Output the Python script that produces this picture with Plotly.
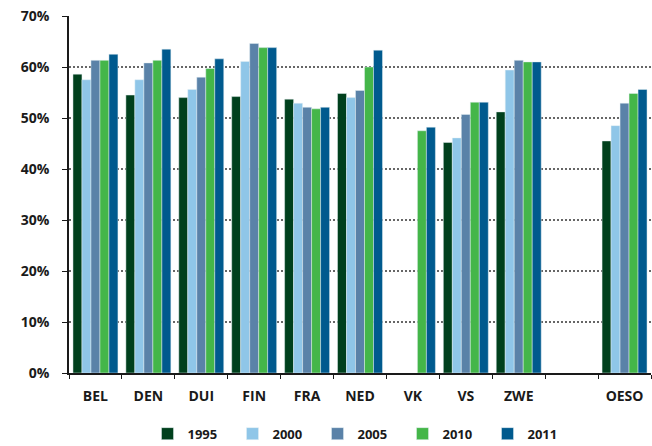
import plotly.graph_objects as go

categories = ["BEL", "DEN", "DUI", "FIN", "FRA", "NED", "VK", "VS", "ZWE", " ", "OESO"]
years = ["1995", "2000", "2005", "2010", "2011"]
v1995 = [58.6, 54.5, 54.0, 54.2, 53.7, 54.8, None, 45.2, 51.2, None, 45.5]
v2000 = [57.5, 57.5, 55.6, 61.1, 52.9, 54.0, None, 46.1, 59.4, None, 48.5]
v2005 = [61.3, 60.8, 58.0, 64.6, 52.1, 55.4, None, 50.7, 61.3, None, 52.9]
v2010 = [61.3, 61.3, 59.7, 63.8, 51.8, 60.0, 47.5, 53.1, 61.0, None, 54.8]
v2011 = [62.5, 63.5, 61.6, 63.8, 52.1, 63.3, 48.2, 53.1, 61.0, None, 55.6]
y_ticks = [0, 10, 20, 30, 40, 50, 60, 70]
y_labels = ["0%", "10%", "20%", "30%", "40%", "50%", "60%", "70%"]

series = [v1995, v2000, v2005, v2010, v2011]
colors = ["#00401d", "#8fc6e8", "#5a82a8", "#44b649", "#005a8e"]

FONT = "Open Sans"
fig = go.Figure()
for name, vals, col in zip(years, series, colors):
    fig.add_trace(go.Bar(
        x=categories, y=vals, name=name,
        marker=dict(color=col, line=dict(color="rgba(230,240,245,0.8)", width=0.6)),
    ))

fig.update_layout(
    width=652, height=446,
    margin=dict(l=69, r=1, t=16, b=73, autoexpand=False),
    plot_bgcolor="white", paper_bgcolor="white",
    barmode="group", bargap=0.15, bargroupgap=0,
    font=dict(family=FONT, color="#1a1a1a"),
    showlegend=True,
    legend=dict(
        orientation="h", x=0.5, xanchor="center", y=-0.17, yanchor="middle",
        font=dict(family=FONT, size=13, color="#1a1a1a", weight="bold"),
        itemwidth=30, traceorder="normal", entrywidth=40, entrywidthmode="pixels",
        bgcolor="rgba(0,0,0,0)",
    ),
    xaxis=dict(
        type="category", categoryorder="array", categoryarray=categories,
        showline=True, linecolor="#1a1a1a", linewidth=1.5,
        ticks="outside", ticklen=4, tickcolor="#1a1a1a", tickwidth=1.2,
        tickson="boundaries", ticklabelstandoff=9,
        tickfont=dict(family=FONT, size=14, color="#1a1a1a", weight="bold"),
        showgrid=False, range=[-0.5, 10.5], automargin=False,
    ),
    yaxis=dict(
        range=[0, 70], tickvals=y_ticks, ticktext=y_labels,
        showline=True, linecolor="#1a1a1a", linewidth=1.5,
        ticks="outside", ticklen=5, tickcolor="#1a1a1a", tickwidth=1.2,
        ticklabelstandoff=10,
        tickfont=dict(family=FONT, size=14, color="#1a1a1a", weight="bold"),
        showgrid=True, gridcolor="#666666", gridwidth=1.6, griddash="1.8px,2.2px",
        zeroline=False, automargin=False,
    ),
)

fig.write_html("out.html", config={"displayModeBar": False},
               post_script="document.body.style.margin='0px';")
